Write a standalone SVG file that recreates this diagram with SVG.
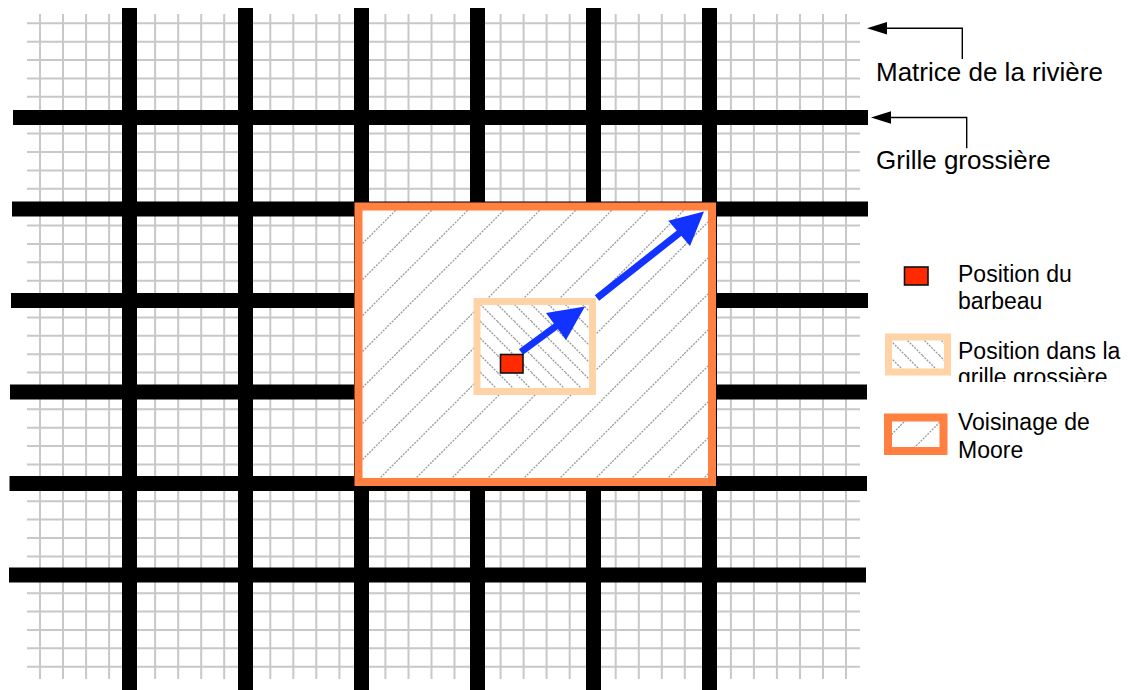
<svg xmlns="http://www.w3.org/2000/svg" width="1130" height="690" viewBox="0 0 1130 690">
<style>
.fine{stroke:#c8c8c8;stroke-width:2;fill:none}
.coarse{stroke:#000;stroke-width:15;fill:none}
.lbl{font-family:"Liberation Sans",Arial,sans-serif;fill:#000}
.top{font-size:26px}
.leg{font-size:23px}
.call{stroke:#000;stroke-width:1.4;fill:none}
.blue{stroke:#1232ff;stroke-width:7;fill:none}
</style>
<defs>
<pattern id="hUp" patternUnits="userSpaceOnUse" width="36" height="36" x="360" y="210">
<path d="M-2 38L38 -2M-20 20L20 -20M16 56L56 16" stroke="#9a9a9a" stroke-width="1.3" stroke-dasharray="2 1.2"/>
</pattern>
<pattern id="hDown" patternUnits="userSpaceOnUse" width="17" height="17" x="480" y="304">
<path d="M-2 -2L19 19M-19 -2L2 19M15 -2L36 19" stroke="#9a9a9a" stroke-width="1.3" stroke-dasharray="2 1.2"/>
</pattern>
<clipPath id="clipLeg"><rect x="950" y="330" width="180" height="52"/></clipPath>
</defs>
<rect width="1130" height="690" fill="#fff"/>
<g id="river-matrix">
<path class="fine" d="M40 14V679M63 14V679M86.1 14V679M109.1 14V679M132.1 14V679M155.1 14V679M178.2 14V679M201.2 14V679M224.2 14V679M247.3 14V679M270.3 14V679M293.3 14V679M316.3 14V679M339.4 14V679M362.4 14V679M385.4 14V679M408.5 14V679M431.5 14V679M454.5 14V679M477.6 14V679M500.6 14V679M523.6 14V679M546.6 14V679M569.7 14V679M592.7 14V679M615.7 14V679M638.8 14V679M661.8 14V679M684.8 14V679M707.8 14V679M730.9 14V679M753.9 14V679M776.9 14V679M800 14V679M823 14V679M846 14V679"/>
<path class="fine" d="M27 23.3H860M27 41.7H860M27 60.1H860M27 78.4H860M27 96.8H860M27 115.2H860M27 133.6H860M27 152H860M27 170.4H860M27 188.7H860M27 207.1H860M27 225.5H860M27 243.9H860M27 262.3H860M27 280.7H860M27 299H860M27 317.4H860M27 335.8H860M27 354.2H860M27 372.6H860M27 391H860M27 409.3H860M27 427.7H860M27 446.1H860M27 464.5H860M27 482.9H860M27 501.3H860M27 519.6H860M27 538H860M27 556.4H860M27 574.8H860M27 593.2H860M27 611.6H860M27 629.9H860M27 648.3H860M27 666.7H860"/>
</g>
<g id="coarse-grid">
<path class="coarse" d="M129.5 8V690M245.5 8V690M361.5 8V690M477.5 8V690M593.5 8V690M709.5 8V690"/>
<path class="coarse" d="M13 117.5H868M12 209H868M11 300.5H868M10 392H867M9.5 483.5H867M9 575H866"/>
</g>
<g id="moore-neighbourhood">
<rect x="358.5" y="206.5" width="353.5" height="275.5" fill="#fff"/>
<rect x="358.5" y="206.5" width="353.5" height="275.5" fill="url(#hUp)" stroke="#ff8040" stroke-width="8"/>
</g>
<g id="coarse-cell">
<rect x="477" y="301.5" width="115.5" height="90" fill="#fff"/>
<rect x="477" y="301.5" width="115.5" height="90" fill="url(#hDown)" stroke="#ffd3a6" stroke-width="7"/>
</g>
<g id="connectors">
<path class="blue" d="M521 352L557 325.5"/>
<path d="M585 306.5L546 313L566 340Z" fill="#1232ff"/>
<path class="blue" d="M597 298L680 232.5"/>
<path d="M704 211.5L668.3 220.7L690 246Z" fill="#1232ff"/>
<path class="call" d="M962.3 59V28.3H885"/>
<path d="M867 28.3L887 22L887 34.6Z" fill="#000"/>
<path class="call" d="M966.7 148.3V117.5H889"/>
<path d="M871 117.5L891 111.2L891 123.8Z" fill="#000"/>
</g>
<g id="barbel">
<rect x="500.5" y="354.5" width="22.5" height="18.5" fill="#ff2a00" stroke="#111" stroke-width="1.6"/>
</g>
<g id="label-matrix"><text class="lbl top" x="876" y="81">Matrice de la rivière</text></g>
<g id="label-grid"><text class="lbl top" x="876" y="168.5">Grille grossière</text></g>
<g id="legend-barbel">
<rect x="904.5" y="267" width="23.5" height="18" fill="#ff2a00" stroke="#111" stroke-width="1.6"/>
<text class="lbl leg" x="958" y="282">Position du</text>
<text class="lbl leg" x="958" y="309">barbeau</text>
</g>
<g id="legend-cell">
<rect x="888.5" y="337" width="59" height="35" fill="url(#hDown)" stroke="#ffd3a6" stroke-width="7"/>
<g clip-path="url(#clipLeg)">
<text class="lbl leg" x="958" y="358.5">Position dans la</text>
<text class="lbl leg" x="958" y="385">grille grossière</text>
</g>
</g>
<g id="legend-moore">
<rect x="888" y="417.5" width="55.5" height="33.5" fill="url(#hUp)" stroke="#ff8040" stroke-width="8"/>
<text class="lbl leg" x="958" y="430">Voisinage de</text>
<text class="lbl leg" x="958" y="457.5">Moore</text>
</g>
</svg>
